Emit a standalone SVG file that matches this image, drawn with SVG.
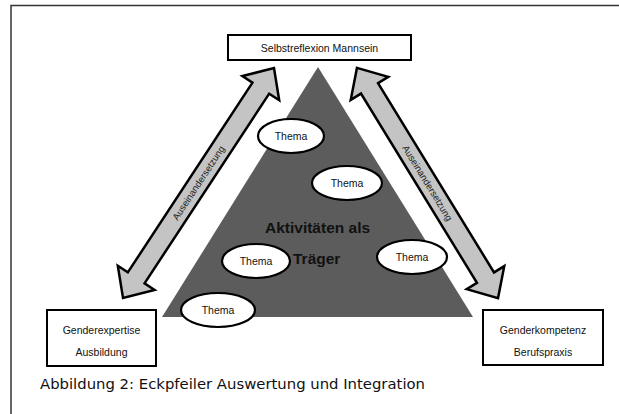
<svg xmlns="http://www.w3.org/2000/svg" width="619" height="414" viewBox="0 0 619 414">
<style>
.box{fill:#fff;stroke:#000;stroke-width:2}
.ell{fill:#fff;stroke:#000;stroke-width:2.2}
.arr{fill:#c4c4c4;stroke:#000;stroke-width:2.5;stroke-linejoin:miter}
.t{font-family:"Liberation Sans",Arial,sans-serif;font-size:10.5px;fill:#111;text-anchor:middle}
.ta{font-family:"Liberation Sans",Arial,sans-serif;font-size:9.5px;fill:#222;text-anchor:middle}
.big{font-family:"Liberation Sans",Arial,sans-serif;font-size:15.5px;font-weight:bold;fill:#111}
.cap{font-family:"DejaVu Sans",Verdana,sans-serif;font-size:13.5px;fill:#111}
</style>
<rect width="619" height="414" fill="#fff"/>
<path d="M11 414 V5.5 H619" fill="none" stroke="#333" stroke-width="1.5"/>
<g id="triangle">
<polygon points="318,67 162,317 473,317" fill="#5c5c5c"/>
</g>
<g id="connectors">
<g transform="translate(198.5,183) rotate(-56.7)">
<polygon class="arr" points="-137.5,0 -113.5,-22 -113.5,-10 113.5,-10 113.5,-22 137.5,0 113.5,22 113.5,10 -113.5,10 -113.5,22"/>
<text class="ta" x="0" y="3.3">Auseinandersetzung</text>
</g>
<g transform="translate(427.5,183) rotate(58.5)">
<polygon class="arr" points="-135,0 -111,-22 -111,-10 111,-10 111,-22 135,0 111,22 111,10 -111,10 -111,22"/>
<text class="ta" x="0" y="3.3">Auseinandersetzung</text>
</g>
</g>
<g id="top">
<rect class="box" x="228" y="35" width="183" height="25"/>
<text class="t" x="319.5" y="51.5">Selbstreflexion Mannsein</text>
</g>
<g id="left">
<rect class="box" x="47" y="310" width="109" height="56"/>
<text class="t" x="101.5" y="333.5">Genderexpertise</text>
<text class="t" x="101.5" y="355.5">Ausbildung</text>
</g>
<g id="right">
<rect class="box" x="483" y="310" width="120" height="55"/>
<text class="t" x="543" y="333.5">Genderkompetenz</text>
<text class="t" x="543" y="355.5">Berufspraxis</text>
</g>
<g id="center">
<text class="big" x="265" y="233">Aktivitäten als</text>
<text class="big" x="293" y="264">Träger</text>
</g>
<g id="thema1"><ellipse class="ell" cx="291" cy="136" rx="33" ry="17"/><text class="t" x="291" y="139.5">Thema</text></g>
<g id="thema2"><ellipse class="ell" cx="347" cy="183" rx="35" ry="17"/><text class="t" x="347" y="186.5">Thema</text></g>
<g id="thema3"><ellipse class="ell" cx="256" cy="261" rx="34" ry="17"/><text class="t" x="256" y="264.5">Thema</text></g>
<g id="thema4"><ellipse class="ell" cx="412" cy="257" rx="35" ry="17"/><text class="t" x="412" y="260.5">Thema</text></g>
<g id="thema5"><ellipse class="ell" cx="218" cy="310" rx="37" ry="17"/><text class="t" x="218" y="313.5">Thema</text></g>
<text class="cap" x="40" y="389" textLength="385" lengthAdjust="spacingAndGlyphs">Abbildung 2: Eckpfeiler Auswertung und Integration</text>
</svg>
